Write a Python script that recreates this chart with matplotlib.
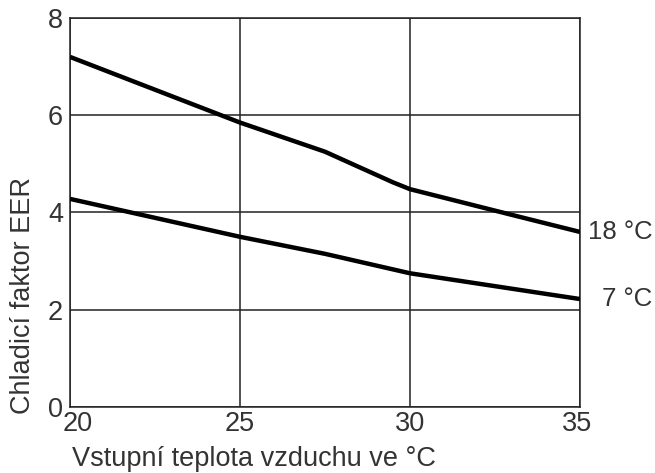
import matplotlib
matplotlib.use("Agg")
import matplotlib.pyplot as plt
from matplotlib.transforms import ScaledTranslation

plt.rcParams['font.family'] = ['Liberation Sans', 'DejaVu Sans']

# air inlet temperature (°C) and EER
x_18 = [20, 25, 27.5, 29.5, 30, 33, 35]
eer_18 = [7.2, 5.85, 5.25, 4.62, 4.48, 3.95, 3.6]
x_7 = [20, 25, 27.5, 30, 35]
eer_7 = [4.28, 3.5, 3.15, 2.75, 2.22]

xticks = [20, 25, 30, 35]
yticks = [0, 2, 4, 6, 8]
series_labels = ['18 °C', '7 °C']

fig = plt.figure(figsize=(6.55, 4.73), dpi=100)
ax = fig.add_axes([70/655, 1 - 407/473, 510/655, 389/473])

ax.plot(x_18, eer_18, color='black', lw=3.2, solid_capstyle='butt', zorder=3)
ax.plot(x_7, eer_7, color='black', lw=3.2, solid_capstyle='butt', zorder=3)

ax.set_xlim(20, 35)
ax.set_ylim(0, 8)
ax.set_xticks(xticks)
ax.set_yticks(yticks)
ax.tick_params(length=0, labelsize=19.5, colors='#333333')
ax.tick_params(axis='y', pad=5)
ax.tick_params(axis='x', pad=3)
ax.grid(True, color='#222222', lw=1.1)
for s in ax.spines.values():
    s.set_color('#222222')
    s.set_linewidth(1.1)

# nudge the first x label right so it clears the "0"
lbl = ax.get_xticklabels()[0]
lbl.set_transform(lbl.get_transform() + ScaledTranslation(8/100, 0, fig.dpi_scale_trans))
lbl = ax.get_xticklabels()[-1]
lbl.set_transform(lbl.get_transform() + ScaledTranslation(-3/100, 0, fig.dpi_scale_trans))

for xs, ys, lab in [(x_18, eer_18, series_labels[0]), (x_7, eer_7, series_labels[1])]:
    ax.annotate(lab, xy=(xs[-1], ys[-1]), xytext=(52, 0), textcoords='offset points',
                ha='right', va='center', fontsize=18.5, color='#333333',
                annotation_clip=False)

fig.text(72/655, 1 - 466/473, 'Vstupní teplota vzduchu ve °C', fontsize=19.5,
         color='#333333', ha='left', va='baseline')
fig.text(23/655, 1 - 296/473, 'Chladicí faktor EER', fontsize=19.5, color='#333333',
         rotation=90, ha='center', va='center')

fig.savefig('out.png', dpi=100)
